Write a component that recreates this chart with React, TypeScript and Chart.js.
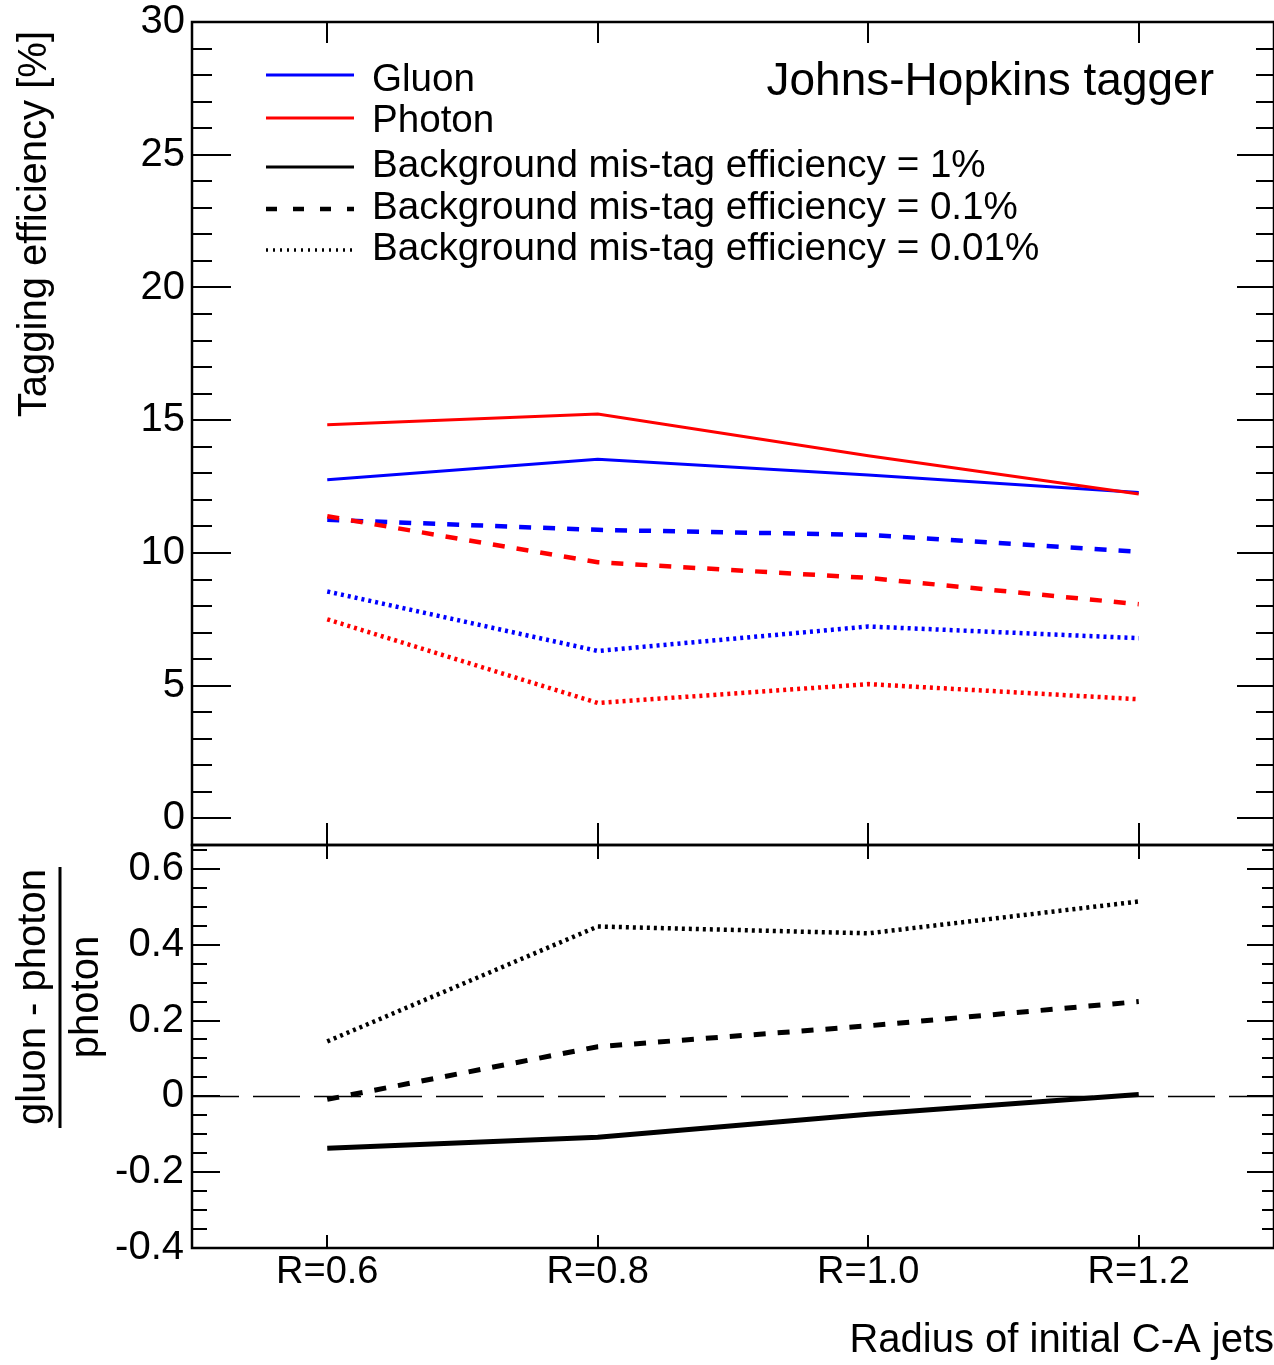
import React, { useEffect, useRef } from "react";
import { Chart, registerables } from "chart.js";

Chart.register(...registerables);

const W = 1274;
const H = 1365;
const FONT = '"Liberation Sans", Arial, Helvetica, sans-serif';

// Jet radius categories
const radii = ["R=0.6", "R=0.8", "R=1.0", "R=1.2"];

// Tagging efficiency [%] at fixed background mis-tag rates
const gluon1 = [12.76, 13.53, 12.94, 12.28];
const photon1 = [14.83, 15.23, 13.66, 12.22];
const gluon01 = [11.25, 10.87, 10.68, 10.05];
const photon01 = [11.38, 9.65, 9.06, 8.07];
const gluon001 = [8.55, 6.31, 7.23, 6.79];
const photon001 = [7.5, 4.35, 5.06, 4.49];

// Relative difference (gluon - photon) / photon
const diff1 = [-0.137, -0.108, -0.047, 0.005];
const diff01 = [-0.008, 0.131, 0.186, 0.25];
const diff001 = [0.145, 0.448, 0.43, 0.514];

// Axis ranges and tick steps
const effRange = [-1, 30];
const effStep = 5;
const effMinor = 1;
const diffRange = [-0.4, 0.663];
const diffStep = 0.2;
const diffMinor = 0.05;

const legendLabels = [
  "Gluon",
  "Photon",
  "Background mis-tag efficiency = 1%",
  "Background mis-tag efficiency = 0.1%",
  "Background mis-tag efficiency = 0.01%",
];

const BLUE = "#0000ff";
const RED = "#ff0000";
const BLACK = "#000000";

const SOLID: number[] = [];
const DASH = [12, 12];
const DOT = [3, 4];

function series(label: string, data: number[], color: string, width: number, dash: number[]) {
  return {
    label,
    data,
    borderColor: color,
    backgroundColor: color,
    borderWidth: width,
    borderDash: dash,
    borderCapStyle: "butt" as const,
    borderJoinStyle: "miter" as const,
    pointRadius: 0,
    pointHoverRadius: 0,
    fill: false,
    tension: 0,
  };
}

type FrameOpts = {
  id: string;
  minorStep: number;
  yMajorL: number;
  yMinorL: number;
  yMajorR: number;
  yMinorR: number;
  xTop: number;
  xBottom: number;
};

// ROOT-style frame: box around the plot area, inward ticks on all sides
function framePlugin(o: FrameOpts) {
  return {
    id: o.id,
    afterDatasetsDraw(chart: any) {
      const { ctx, chartArea: a } = chart;
      const y = chart.scales.y;
      const x = chart.scales.x;
      ctx.save();
      ctx.setLineDash([]);
      ctx.strokeStyle = BLACK;
      ctx.lineWidth = 2;
      ctx.beginPath();
      const majors = y.ticks.map((t: any) => t.value);
      const start = Math.ceil(y.min / o.minorStep - 1e-6);
      for (let k = start; k * o.minorStep <= y.max + 1e-9; k++) {
        const v = k * o.minorStep;
        const isMajor = majors.some((m: number) => Math.abs(m - v) < 1e-6);
        const py = Math.round(y.getPixelForValue(v));
        ctx.moveTo(a.left, py);
        ctx.lineTo(a.left + (isMajor ? o.yMajorL : o.yMinorL), py);
        ctx.moveTo(a.right, py);
        ctx.lineTo(a.right - (isMajor ? o.yMajorR : o.yMinorR), py);
      }
      x.ticks.forEach((_: any, i: number) => {
        const px = Math.round(x.getPixelForTick(i));
        ctx.moveTo(px, a.top);
        ctx.lineTo(px, a.top + o.xTop);
        ctx.moveTo(px, a.bottom);
        ctx.lineTo(px, a.bottom - o.xBottom);
      });
      ctx.stroke();
      ctx.lineWidth = 2.5;
      ctx.strokeRect(a.left, a.top, a.right - a.left, a.bottom - a.top);
      ctx.restore();
    },
  };
}

// Legend, tagger label and y title for the efficiency panel
const legendStyles = [
  { color: BLUE, width: 3, dash: SOLID, lineY: 75, textY: 91 },
  { color: RED, width: 3, dash: SOLID, lineY: 118, textY: 132 },
  { color: BLACK, width: 3, dash: SOLID, lineY: 167, textY: 177 },
  { color: BLACK, width: 4.5, dash: [11, 16], lineY: 209, textY: 219 },
  { color: BLACK, width: 3.5, dash: [2, 5], lineY: 250, textY: 260 },
];

const topDecor = {
  id: "topDecor",
  afterDraw(chart: any) {
    const { ctx } = chart;
    ctx.save();
    ctx.fillStyle = BLACK;
    legendLabels.forEach((txt, i) => {
      const s = legendStyles[i];
      ctx.beginPath();
      ctx.strokeStyle = s.color;
      ctx.lineWidth = s.width;
      ctx.lineCap = "butt";
      ctx.setLineDash(s.dash);
      ctx.moveTo(266, s.lineY);
      ctx.lineTo(354, s.lineY);
      ctx.stroke();
      ctx.setLineDash([]);
      ctx.font = `38.6px ${FONT}`;
      ctx.textAlign = "left";
      ctx.textBaseline = "alphabetic";
      ctx.fillText(txt, 372, s.textY);
    });
    ctx.font = `46px ${FONT}`;
    ctx.textAlign = "right";
    ctx.fillText("Johns-Hopkins tagger", 1214, 95);

    ctx.font = `40px ${FONT}`;
    ctx.translate(46, 31);
    ctx.rotate(-Math.PI / 2);
    ctx.textAlign = "right";
    ctx.fillText("Tagging efficiency [%]", 0, 0);
    ctx.restore();
  },
};

// Zero reference line and fraction-style y title for the ratio panel
const bottomDecor = {
  id: "bottomDecor",
  beforeDatasetsDraw(chart: any) {
    const { ctx, chartArea: a } = chart;
    const y0 = Math.round(chart.scales.y.getPixelForValue(0)) + 0.5;
    ctx.save();
    ctx.strokeStyle = BLACK;
    ctx.lineWidth = 1.6;
    ctx.setLineDash([47, 14]);
    ctx.beginPath();
    ctx.moveTo(a.left, y0);
    ctx.lineTo(a.right, y0);
    ctx.stroke();
    ctx.restore();
  },
  afterDraw(chart: any) {
    const { ctx } = chart;
    ctx.save();
    ctx.fillStyle = BLACK;
    ctx.font = `40px ${FONT}`;
    ctx.textAlign = "center";
    ctx.textBaseline = "alphabetic";
    ctx.save();
    ctx.translate(45, 997);
    ctx.rotate(-Math.PI / 2);
    ctx.fillText("gluon - photon", 0, 0);
    ctx.restore();
    ctx.save();
    ctx.translate(98, 997);
    ctx.rotate(-Math.PI / 2);
    ctx.fillText("photon", 0, 0);
    ctx.restore();
    ctx.fillRect(58.5, 867, 3, 261);
    ctx.restore();
  },
};

export default function App() {
  const topRef = useRef<HTMLCanvasElement>(null);
  const botRef = useRef<HTMLCanvasElement>(null);

  useEffect(() => {
    const tickFont = { family: FONT, size: 40, lineHeight: 0.4 };
    const noGrid = { display: false, drawTicks: false, tickLength: 0 };

    const topChart = new Chart(topRef.current!, {
      type: "line",
      data: {
        labels: radii,
        datasets: [
          series("Photon, 1%", photon1, RED, 3, SOLID),
          series("Photon, 0.1%", photon01, RED, 4.5, DASH),
          series("Photon, 0.01%", photon001, RED, 4.5, DOT),
          series("Gluon, 1%", gluon1, BLUE, 3, SOLID),
          series("Gluon, 0.1%", gluon01, BLUE, 4.5, DASH),
          series("Gluon, 0.01%", gluon001, BLUE, 4.5, DOT),
        ] as any,
      },
      options: {
        responsive: false,
        animation: false,
        events: [],
        layout: { padding: { left: 0, right: 0, top: 22, bottom: H - 845 } },
        plugins: { legend: { display: false }, tooltip: { enabled: false } },
        scales: {
          x: { type: "category", offset: true, display: false },
          y: {
            type: "linear",
            min: effRange[0],
            max: effRange[1],
            ticks: {
              stepSize: effStep,
              includeBounds: false,
              color: BLACK,
              font: tickFont,
              padding: 7,
            },
            grid: noGrid,
            border: { display: false },
            afterFit(scale: any) {
              scale.width = 192;
            },
          },
        },
      },
      plugins: [
        framePlugin({
          id: "frameTop",
          minorStep: effMinor,
          yMajorL: 39,
          yMinorL: 20,
          yMajorR: 37,
          yMinorR: 18,
          xTop: 21,
          xBottom: 22,
        }),
        topDecor,
      ],
    });

    const botChart = new Chart(botRef.current!, {
      type: "line",
      data: {
        labels: radii,
        datasets: [
          series("Background mis-tag efficiency = 1%", diff1, BLACK, 5, SOLID),
          series("Background mis-tag efficiency = 0.1%", diff01, BLACK, 5, DASH),
          series("Background mis-tag efficiency = 0.01%", diff001, BLACK, 4.5, DOT),
        ] as any,
      },
      options: {
        responsive: false,
        animation: false,
        events: [],
        layout: { padding: { left: 0, right: 0, top: 845, bottom: 0 } },
        plugins: { legend: { display: false }, tooltip: { enabled: false } },
        scales: {
          x: {
            type: "category",
            offset: true,
            ticks: {
              color: BLACK,
              font: { family: FONT, size: 38, lineHeight: 1 },
              padding: 6,
              maxRotation: 0,
              autoSkip: false,
            },
            grid: noGrid,
            border: { display: false },
            title: {
              display: true,
              text: "Radius of initial C-A jets",
              align: "end",
              color: BLACK,
              font: { family: FONT, size: 40, lineHeight: 1 },
              padding: { top: 0, bottom: 4 },
            },
            afterFit(scale: any) {
              scale.height = H - 1248;
            },
          },
          y: {
            type: "linear",
            min: diffRange[0],
            max: diffRange[1],
            ticks: {
              stepSize: diffStep,
              includeBounds: false,
              color: BLACK,
              font: tickFont,
              padding: 8,
            },
            grid: noGrid,
            border: { display: false },
            afterFit(scale: any) {
              scale.width = 192;
            },
          },
        },
      },
      plugins: [
        bottomDecor,
        framePlugin({
          id: "frameBottom",
          minorStep: diffMinor,
          yMajorL: 28,
          yMinorL: 15,
          yMajorR: 27,
          yMinorR: 12,
          xTop: 14,
          xBottom: 13,
        }),
      ],
    });

    return () => {
      topChart.destroy();
      botChart.destroy();
    };
  }, []);

  return (
    <div style={{ position: "absolute", left: 0, top: 0, width: W, height: H, background: "#fff" }}>
      <canvas ref={botRef} width={W} height={H} style={{ position: "absolute", left: 0, top: 0 }} />
      <canvas ref={topRef} width={W} height={H} style={{ position: "absolute", left: 0, top: 0 }} />
    </div>
  );
}
